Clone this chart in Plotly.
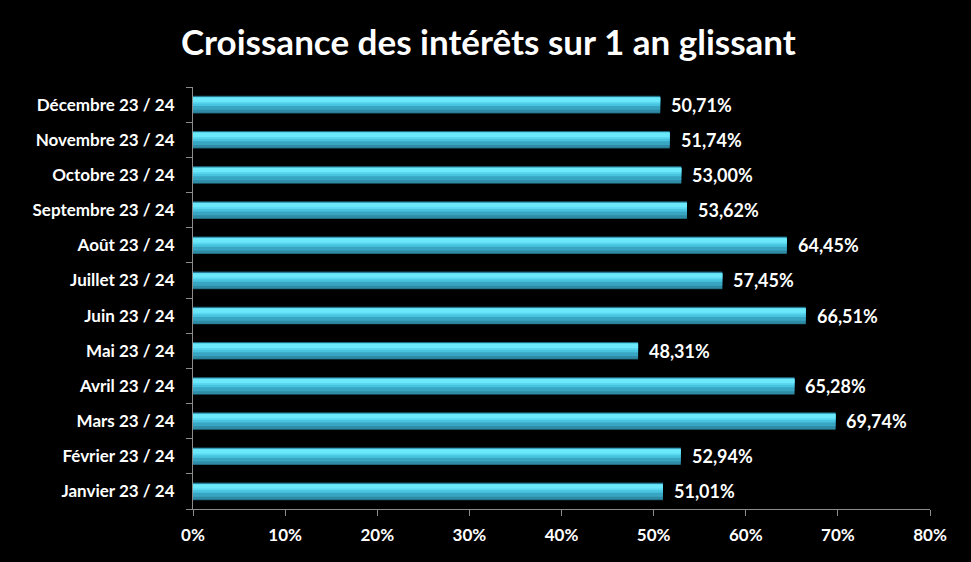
"""
Croissance des intérêts sur 1 an glissant - horizontal bar chart
"""

import plotly.graph_objects as go

months = [
    "Janvier 23 / 24",
    "Février 23 / 24",
    "Mars 23 / 24",
    "Avril 23 / 24",
    "Mai 23 / 24",
    "Juin 23 / 24",
    "Juillet 23 / 24",
    "Août 23 / 24",
    "Septembre 23 / 24",
    "Octobre 23 / 24",
    "Novembre 23 / 24",
    "Décembre 23 / 24",
]
growth = [51.01, 52.94, 69.74, 65.28, 48.31, 66.51, 57.45, 64.45, 53.62, 53.00, 51.74, 50.71]
x_ticks = [0, 10, 20, 30, 40, 50, 60, 70, 80]

FONT = "Lato"

# layered bars to fake the glossy 3D look (dark edge -> bright top strip)
layers = [
    (-0.25, 0.50, "#1d5f70"),
    (-0.23, 0.46, "#2e8aa5"),
    (-0.15, 0.36, "#38a6c3"),
    (-0.04, 0.24, "#48c4e0"),
    (0.03, 0.18, "#5ad8f0"),
    (0.08, 0.12, "#6ce8fb"),
]

fig = go.Figure()

for offset, width, color in layers:
    fig.add_trace(
        go.Bar(
            x=growth,
            y=months,
            orientation="h",
            offset=offset,
            width=width,
            marker={"color": color, "line": {"width": 0}},
            hoverinfo="skip",
            showlegend=False,
        )
    )

# value labels, a little to the right of each bar end
for month, value in zip(months, growth):
    fig.add_annotation(
        x=value,
        y=month,
        text=f"{value:.2f}%".replace(".", ","),
        showarrow=False,
        xanchor="left",
        xshift=9,
        font={"color": "white", "size": 18, "family": FONT, "weight": "bold"},
    )

fig.update_layout(
    width=971,
    height=562,
    barmode="overlay",
    paper_bgcolor="black",
    plot_bgcolor="black",
    margin={"l": 193, "r": 41, "t": 87, "b": 53},
    title={
        "text": "Croissance des intérêts sur 1 an glissant",
        "x": 0.503,
        "xanchor": "center",
        "y": 0.924,
        "yanchor": "middle",
        "font": {"color": "white", "size": 35, "family": FONT, "weight": "bold"},
    },
    font={"family": FONT, "color": "white"},
)

fig.update_xaxes(
    range=[0, 80],
    tickvals=x_ticks,
    ticktext=[f"{t}%" for t in x_ticks],
    showgrid=False,
    zeroline=False,
    showline=True,
    linecolor="#8c8c8c",
    linewidth=1,
    ticks="outside",
    ticklen=6,
    tickcolor="#8c8c8c",
    tickfont={"color": "white", "size": 17, "family": FONT, "weight": "bold"},
    ticklabelstandoff=5,
)

fig.update_yaxes(
    type="category",
    categoryorder="array",
    categoryarray=months,
    range=[-0.5, len(months) - 0.5],
    showgrid=False,
    zeroline=False,
    showline=True,
    linecolor="#8c8c8c",
    linewidth=1,
    ticks="outside",
    tickson="boundaries",
    ticklen=6,
    tickcolor="#8c8c8c",
    tickfont={"color": "white", "size": 17, "family": FONT, "weight": "bold"},
    ticklabelstandoff=14,
)

fig.write_html(
    "out.html",
    config={"displayModeBar": False},
    post_script="document.body.style.margin='0';document.body.style.background='black';",
)
